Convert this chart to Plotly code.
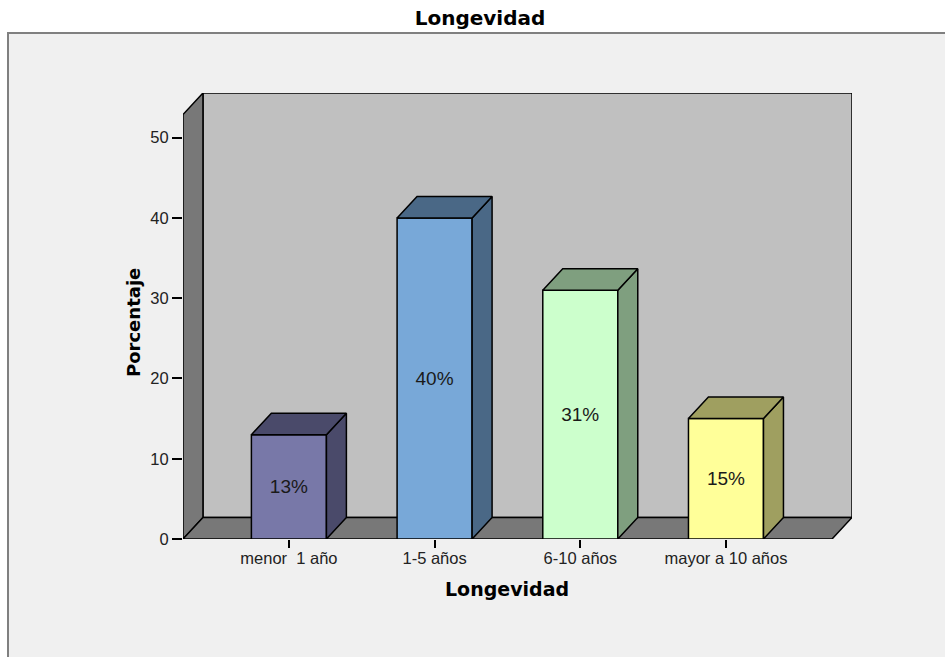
import plotly.graph_objects as go

# Longevidad: porcentaje por categoría
categorias = ["menor  1 año", "1-5 años", "6-10 años", "mayor a 10 años"]
porcentajes = [13, 40, 31, 15]
etiquetas = ["13%", "40%", "31%", "15%"]
y_ticks = [0, 10, 20, 30, 40, 50]

colores_frente = ["#7878A8", "#78A8D8", "#CCFFCC", "#FFFF99"]
colores_lado = ["#4A4A6A", "#4A6886", "#7F9F7F", "#9F9F60"]

# Geometría de la caja 3D (unidades de eje)
W, H = 945, 657
ML, MR, MT, MB = 183, 93, 93, 118
BAR_W = 0.515
DX = 0.137          # profundidad horizontal
DY = 2.68           # profundidad vertical
X_FRONT_L = -0.727
X_FRONT_R = 3.728
Y_WALL_TOP = 52.89
X_MAX = X_FRONT_R + DX
Y_MAX = Y_WALL_TOP + DY

xs = list(range(len(categorias)))

fig = go.Figure()

# Caras frontales
fig.add_trace(go.Bar(
    x=xs, y=porcentajes, width=BAR_W,
    marker=dict(color=colores_frente, line=dict(color="#000000", width=1.5)),
    text=etiquetas, textposition="inside", insidetextanchor="middle",
    textfont=dict(family="Liberation Sans", size=19, color="#1A1A1A"),
    constraintext="none", hoverinfo="skip", showlegend=False,
))

# Caras laterales y superiores
for x, v, c in zip(xs, porcentajes, colores_lado):
    xl, xr = x - BAR_W / 2, x + BAR_W / 2
    fig.add_trace(go.Scatter(
        x=[xr, xr + DX, xr + DX, xr, xr], y=[0, DY, v + DY, v, 0],
        mode="lines", fill="toself", fillcolor=c,
        line=dict(color="#000000", width=1.5), hoverinfo="skip", showlegend=False,
    ))
    fig.add_trace(go.Scatter(
        x=[xl, xl + DX, xr + DX, xr, xl], y=[v, v + DY, v + DY, v, v],
        mode="lines", fill="toself", fillcolor=c,
        line=dict(color="#000000", width=1.5), hoverinfo="skip", showlegend=False,
    ))

def poly(pts):
    return "M " + " L ".join(f"{a},{b}" for a, b in pts) + " Z"

edge = dict(color="#000000", width=1.5)
shapes = [
    # panel exterior
    dict(type="rect", xref="paper", yref="paper", layer="below",
         x0=(8 - ML) / (W - ML - MR), x1=(980 - ML) / (W - ML - MR),
         y0=-(700 - (H - MB)) / (H - MT - MB), y1=((H - MB) - 33) / (H - MT - MB),
         fillcolor="#F0F0F0", line=dict(color="#808080", width=2)),
    # pared del fondo
    dict(type="path", xref="x", yref="y", layer="below",
         path=poly([(X_FRONT_L + DX, DY), (X_MAX, DY), (X_MAX, Y_MAX), (X_FRONT_L + DX, Y_MAX)]),
         fillcolor="#C0C0C0", line=edge),
    # pared izquierda
    dict(type="path", xref="x", yref="y", layer="below",
         path=poly([(X_FRONT_L, 0), (X_FRONT_L, Y_WALL_TOP), (X_FRONT_L + DX, Y_MAX), (X_FRONT_L + DX, DY)]),
         fillcolor="#787878", line=edge),
    # piso
    dict(type="path", xref="x", yref="y", layer="below",
         path=poly([(X_FRONT_L, 0), (X_FRONT_R, 0), (X_MAX, DY), (X_FRONT_L + DX, DY)]),
         fillcolor="#787878", line=edge),
]

fig.update_layout(
    width=W, height=H,
    margin=dict(l=ML, r=MR, t=MT, b=MB, pad=0),
    paper_bgcolor="#FFFFFF", plot_bgcolor="#F0F0F0",
    shapes=shapes,
    title=dict(text="<b>Longevidad</b>", x=480 / W, xanchor="center",
               y=1 - 18 / H, yanchor="middle",
               font=dict(family="DejaVu Sans", size=20, color="#000000")),
    xaxis=dict(range=[X_FRONT_L, X_MAX], tickvals=xs, ticktext=categorias,
               showgrid=False, zeroline=False, showline=False,
               ticks="outside", ticklen=8, tickwidth=1.5, tickcolor="#000000",
               ticklabelstandoff=-4,
               tickfont=dict(family="Liberation Sans", size=16.5, color="#222222")),
    yaxis=dict(range=[0, Y_MAX], tickvals=y_ticks,
               showgrid=False, zeroline=False, showline=False,
               ticks="outside", ticklen=10, tickwidth=1.5, tickcolor="#000000",
               tickfont=dict(family="Liberation Sans", size=16.5, color="#222222")),
    annotations=[
        dict(text="<b>Longevidad</b>", xref="paper", yref="paper",
             x=(507 - ML) / (W - ML - MR), y=-(589 - (H - MB)) / (H - MT - MB),
             xanchor="center", yanchor="middle", showarrow=False,
             font=dict(family="DejaVu Sans", size=19, color="#000000")),
        dict(text="<b>Porcentaje</b>", xref="paper", yref="paper",
             x=(133 - ML) / (W - ML - MR), y=((H - MB) - 323) / (H - MT - MB),
             xanchor="center", yanchor="middle", textangle=-90, showarrow=False,
             font=dict(family="DejaVu Sans", size=18, color="#000000")),
    ],
)

fig.write_html("out.html")
